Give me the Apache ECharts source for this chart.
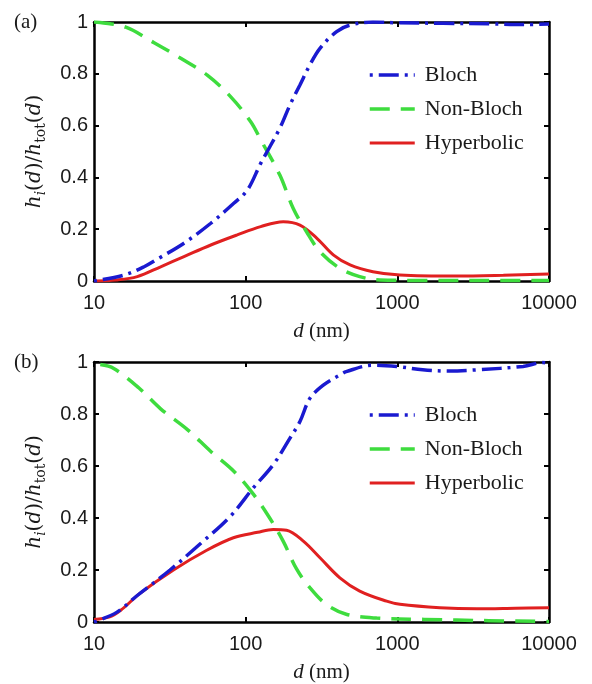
<!DOCTYPE html>
<html><head><meta charset="utf-8">
<script src="https://cdn.jsdelivr.net/npm/echarts@6/dist/echarts.min.js"></script>
<style>html,body{margin:0;padding:0;background:#fff}#c{width:592px;height:684px}</style>
</head><body><div id="c"></div>
<script>
const seriesNames = ['Bloch', 'Non-Bloch', 'Hyperbolic'];
const xTicks = [10, 100, 1000, 10000];
const yTicks = [0, 0.2, 0.4, 0.6, 0.8, 1];
const panelLabels = ['(a)', '(b)'];

// Panel (a)
const aBlochD = [10, 15.8, 21.4, 26.8, 39.2, 58.9, 83.5, 102.6, 125.6, 168, 196, 228, 265, 309, 398, 488, 690, 1000, 2000, 4000, 7000, 10000];
const aBlochV = [0, 0.023, 0.055, 0.088, 0.146, 0.223, 0.3, 0.351, 0.454, 0.59, 0.68, 0.757, 0.834, 0.898, 0.963, 0.988, 1.0, 0.997, 0.995, 0.993, 0.99, 0.992];
const aNonD = [10, 11, 16.2, 24.9, 37.3, 55.8, 79.5, 108, 126, 168, 206, 252, 309, 418, 565, 765, 1500, 5000, 10000];
const aNonV = [1.0, 0.998, 0.98, 0.92, 0.86, 0.795, 0.712, 0.615, 0.544, 0.409, 0.28, 0.19, 0.113, 0.049, 0.017, 0.004, 0.002, 0.002, 0.002];
const aHypD = [10, 14, 19.3, 27.5, 39.2, 58.9, 88, 125.6, 177, 228, 295, 380, 488, 690, 1040, 2455, 5000, 10000];
const aHypV = [0, 0.004, 0.017, 0.055, 0.094, 0.139, 0.178, 0.21, 0.229, 0.216, 0.165, 0.1, 0.062, 0.036, 0.023, 0.019, 0.022, 0.027];

// Panel (b)
const bBlochD = [10, 14.1, 19.1, 31.7, 50, 78.8, 112, 152, 196, 228, 265, 325, 418, 460, 690, 991, 1470, 2200, 3350, 6750, 9150, 10000];
const bBlochV = [0, 0.037, 0.1, 0.2, 0.3, 0.405, 0.515, 0.605, 0.707, 0.771, 0.86, 0.911, 0.95, 0.963, 0.988, 0.983, 0.97, 0.965, 0.97, 0.983, 0.998, 0.995];
const bNonD = [11, 13.5, 19.8, 27.5, 41.3, 58.9, 83.5, 113, 144, 177, 216, 265, 340, 460, 731, 1500, 4000, 10000];
const bNonV = [0.99, 0.975, 0.9, 0.82, 0.74, 0.656, 0.58, 0.49, 0.4, 0.31, 0.205, 0.132, 0.068, 0.03, 0.015, 0.01, 0.005, 0.002];
const bHypD = [10, 12.7, 15, 20.1, 33.4, 55, 83, 120, 152, 186, 240, 309, 418, 565, 850, 1040, 1906, 3350, 6000, 10000];
const bHypV = [0.01, 0.02, 0.045, 0.11, 0.2, 0.275, 0.324, 0.345, 0.356, 0.353, 0.311, 0.247, 0.17, 0.119, 0.08, 0.068, 0.055, 0.051, 0.053, 0.055];

const zip = (d, v) => d.map((x, i) => [x, v[i]]);
const colors = ['#1a1ad0', '#3edc3e', '#e02020'];
const dashes = [[3, 6, 20, 6], [20, 11], 'solid'];
const widths = [3.5, 3.5, 3];

const grids = [
  { left: 94, top: 22, width: 455, height: 259 },
  { left: 94, top: 362, width: 455, height: 260 }
];
const sansFont = 'Liberation Sans, Arial, sans-serif';
const serifFont = 'Liberation Serif, Times New Roman, serif';
const mathFont = 'DejaVu Serif, serif';

const xAxes = [], yAxes = [];
grids.forEach((g, gi) => {
  const common = {
    type: 'log', logBase: 10, min: xTicks[0], max: xTicks[xTicks.length - 1], gridIndex: gi,
    axisLine: { show: true, onZero: false, lineStyle: { color: '#000', width: 2.5 } },
    axisTick: { show: true, inside: true, length: 5, lineStyle: { color: '#000', width: 2 } },
    splitLine: { show: false }
  };
  xAxes.push(Object.assign({}, common, {
    position: 'bottom',
    axisLabel: { color: '#1a1a1a', fontFamily: sansFont, fontSize: 20, margin: 12,
      formatter: v => String(Math.round(v)) },
    name: '{i|d}{n| (nm)}', nameLocation: 'middle', nameGap: 40,
    nameTextStyle: { rich: {
      i: { fontFamily: serifFont, fontStyle: 'italic', fontSize: 21, color: '#1a1a1a' },
      n: { fontFamily: serifFont, fontSize: 21, color: '#1a1a1a' }
    } }
  }));
  xAxes.push(Object.assign({}, common, { position: 'top', axisLabel: { show: false } }));
  const ycommon = {
    type: 'value', min: 0, max: 1, interval: 0.2, gridIndex: gi,
    axisLine: { show: true, onZero: false, lineStyle: { color: '#000', width: 2.5 } },
    axisTick: { show: true, inside: true, length: 5, lineStyle: { color: '#000', width: 2 } },
    splitLine: { show: false }
  };
  yAxes.push(Object.assign({}, ycommon, {
    position: 'left',
    axisLabel: { color: '#1a1a1a', fontFamily: sansFont, fontSize: 20, margin: 6 },
    name: '{i|h}{si|i}{n|(}{i|d}{n|)/}{i|h}{sn|tot}{n|(}{i|d}{n|)}',
    nameLocation: 'middle', nameGap: 46, nameRotate: 90,
    nameTextStyle: { rich: {
      i: { fontFamily: mathFont, fontStyle: 'italic', fontSize: 20, lineHeight: 26, color: '#1a1a1a' },
      n: { fontFamily: mathFont, fontSize: 20, lineHeight: 26, color: '#1a1a1a' },
      si: { fontFamily: mathFont, fontStyle: 'italic', fontSize: 14, lineHeight: 14, verticalAlign: 'bottom', color: '#1a1a1a' },
      sn: { fontFamily: mathFont, fontSize: 14, lineHeight: 14, verticalAlign: 'bottom', color: '#1a1a1a' }
    } }
  }));
  yAxes.push(Object.assign({}, ycommon, { position: 'right', axisLabel: { show: false } }));
});

const panelData = [
  [zip(aBlochD, aBlochV), zip(aNonD, aNonV), zip(aHypD, aHypV)],
  [zip(bBlochD, bBlochV), zip(bNonD, bNonV), zip(bHypD, bHypV)]
];
const series = [];
panelData.forEach((pd, gi) => {
  pd.forEach((data, si) => {
    series.push({
      name: seriesNames[si], type: 'line', data: data,
      xAxisIndex: gi * 2, yAxisIndex: gi * 2,
      smooth: 0.35, symbol: 'none', showSymbol: false,
      lineStyle: { color: colors[si], width: widths[si], type: dashes[si] },
      itemStyle: { color: colors[si] },
      z: 3 - si
    });
  });
});

const legends = grids.map(g => ({
  orient: 'vertical', left: 363, top: g.top + 37, itemWidth: 45, itemHeight: 14, itemGap: 12,
  data: seriesNames.map((n, i) => ({ name: n, lineStyle: { width: widths[i], type: dashes[i], color: colors[i] } })),
  selectedMode: false,
  itemStyle: { opacity: 0 },
  lineStyle: { width: 'inherit' },
  textStyle: { fontFamily: serifFont, fontSize: 22, color: '#1a1a1a', padding: [0, 0, 0, 5] }
}));

const graphics = grids.map((g, gi) => ({
  type: 'text', left: 14, top: g.top - 10,
  style: { text: panelLabels[gi], font: '21px ' + serifFont, fill: '#1a1a1a' }
}));

const chart = echarts.init(document.getElementById('c'));
chart.setOption({
  animation: false,
  backgroundColor: '#fff',
  grid: grids,
  xAxis: xAxes,
  yAxis: yAxes,
  legend: legends,
  series: series,
  graphic: graphics
});
</script></body></html>
